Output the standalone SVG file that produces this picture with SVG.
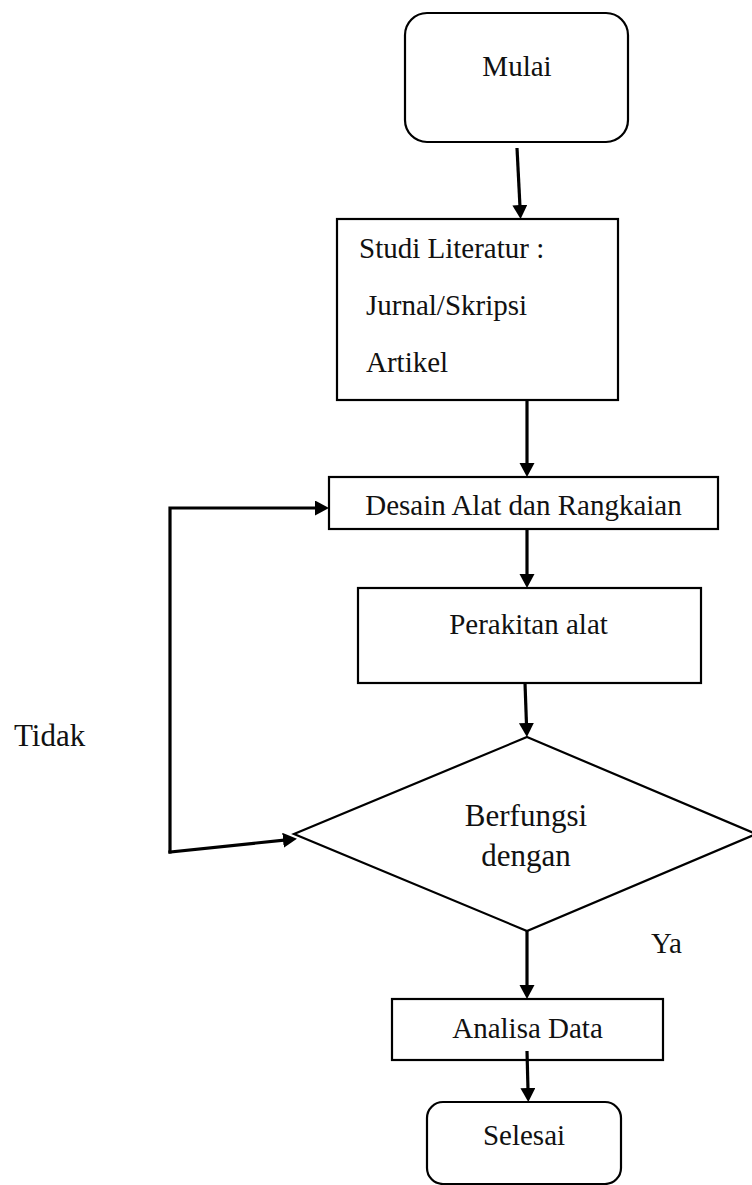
<svg xmlns="http://www.w3.org/2000/svg" width="752" height="1185" viewBox="0 0 752 1185">
  <style>
    .box { fill: #ffffff; stroke: #000000; stroke-width: 2.2; }
    .lbl { font-family: "Liberation Serif", "Times New Roman", serif; font-size: 29px; fill: #111111; }
    .big { font-size: 31px; }
    .mid { text-anchor: middle; }
    .wire { fill: none; stroke: #000000; stroke-width: 3.2; }
  </style>
  <defs>
    <marker id="head" markerUnits="userSpaceOnUse" markerWidth="16" markerHeight="16" refX="2" refY="7.5" orient="auto">
      <path d="M0,0 L14,7.5 L0,15 Z" fill="#000000"/>
    </marker>
  </defs>
  <rect x="0" y="0" width="752" height="1185" fill="#ffffff"/>

  <!-- flow nodes -->
  <g id="mulai">
    <rect class="box" x="405" y="13" width="223" height="129" rx="22" ry="22"/>
    <text class="lbl mid" x="517" y="76">Mulai</text>
  </g>
  <g id="studi-literatur">
    <rect class="box" x="337" y="219" width="281" height="181"/>
    <text class="lbl" x="359" y="258">Studi Literatur :</text>
    <text class="lbl" x="366" y="315">Jurnal/Skripsi</text>
    <text class="lbl" x="366" y="372">Artikel</text>
  </g>
  <g id="desain">
    <rect class="box" x="329" y="477" width="389" height="52"/>
    <text class="lbl mid" x="523.5" y="515">Desain Alat dan Rangkaian</text>
  </g>
  <g id="perakitan">
    <rect class="box" x="358" y="588" width="343" height="95"/>
    <text class="lbl mid" x="528.5" y="634">Perakitan alat</text>
  </g>
  <g id="keputusan">
    <polygon class="box" points="527,737 756,834 527,931 294,834"/>
    <text class="lbl big mid" x="526" y="826">Berfungsi</text>
    <text class="lbl big mid" x="526" y="866">dengan</text>
  </g>
  <g id="analisa">
    <rect class="box" x="392" y="999" width="271" height="61"/>
    <text class="lbl mid" x="527.5" y="1038">Analisa Data</text>
  </g>
  <g id="selesai">
    <rect class="box" x="427" y="1102" width="194" height="82" rx="16" ry="16"/>
    <text class="lbl mid" x="524" y="1145">Selesai</text>
  </g>

  <!-- branch labels -->
  <g id="label-tidak">
    <text class="lbl big" x="14" y="746">Tidak</text>
  </g>
  <g id="label-ya">
    <text class="lbl" x="651" y="953">Ya</text>
  </g>

  <!-- connectors -->
  <g id="connectors">
    <path class="wire" d="M517,148 L520,207" marker-end="url(#head)"/>
    <path class="wire" d="M527,400 L527,465" marker-end="url(#head)"/>
    <path class="wire" d="M527,529 L527,576" marker-end="url(#head)"/>
    <path class="wire" d="M525,683 L526.5,725" marker-end="url(#head)"/>
    <path class="wire" d="M527,931 L527,987" marker-end="url(#head)"/>
    <path class="wire" d="M527,1051 L528,1090" marker-end="url(#head)"/>
    <path class="wire" stroke-linecap="square" d="M170,852 L170,508 L317,508" marker-end="url(#head)"/>
    <path class="wire" stroke-linecap="square" d="M170,852 L285,840" marker-end="url(#head)"/>
  </g>
</svg>
